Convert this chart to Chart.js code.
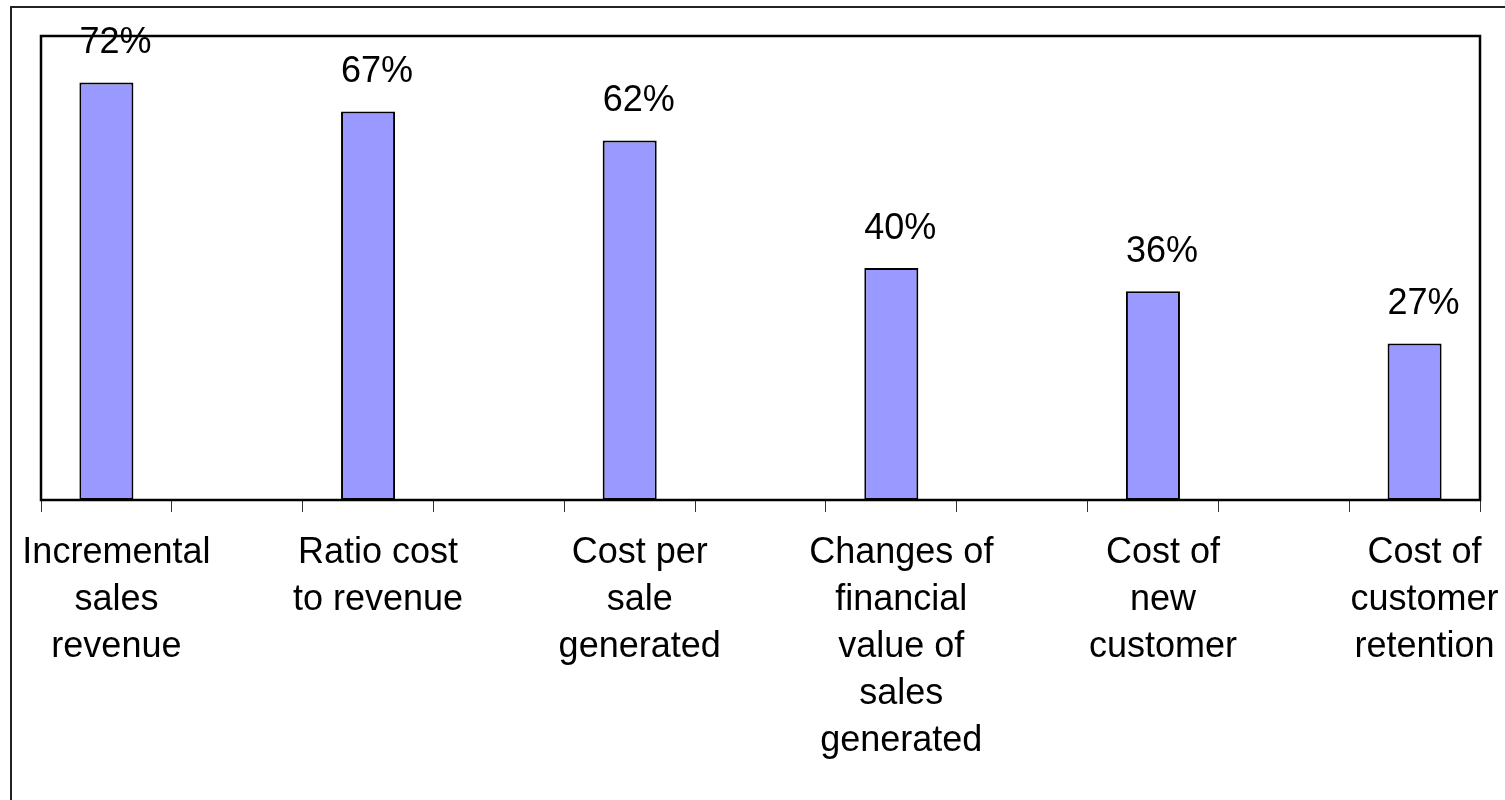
<!DOCTYPE html>
<html>
<head>
<meta charset="utf-8">
<title>Metrics chart</title>
<script src="https://cdn.jsdelivr.net/npm/chart.js@4/dist/chart.umd.min.js"></script>
<style>
  html, body { margin: 0; padding: 0; background: #fff; }
  #wrap { width: 1505px; height: 800px; position: relative; }
</style>
</head>
<body>
<div id="wrap"><canvas id="chart"></canvas></div>
<script>
"use strict";

// categories sit on every other slot, the slots between stay empty
const categories = [
  ['Incremental', 'sales', 'revenue'],
  '',
  ['Ratio cost', 'to revenue'],
  '',
  ['Cost per', 'sale', 'generated'],
  '',
  ['Changes of', 'financial', 'value of', 'sales', 'generated'],
  '',
  ['Cost of', 'new', 'customer'],
  '',
  ['Cost of', 'customer', 'retention'],
];
const shares = [72, null, 67, null, 62, null, 40, null, 36, null, 27];
const yMin = 0;
const yMax = 80;

const FONT = "'Liberation Sans', Arial, sans-serif";

const framePlugin = {
  id: 'frame',
  beforeDraw( chart ) {
    const ctx = chart.ctx;
    ctx.save();
    ctx.strokeStyle = '#222';
    ctx.lineWidth = 2;
    ctx.beginPath();
    ctx.moveTo( 11, 2000 );
    ctx.lineTo( 11, 7 );
    ctx.lineTo( 2000, 7 );
    ctx.stroke();
    ctx.restore();
  },
  afterDatasetsDraw( chart ) {
    const ctx = chart.ctx;
    const a = chart.chartArea;
    ctx.save();
    ctx.strokeStyle = '#000';
    ctx.lineWidth = 2.5;
    ctx.strokeRect( a.left, a.top, a.right - a.left, a.bottom - a.top );
    // value labels above the bars
    ctx.fillStyle = '#000';
    ctx.font = '36px ' + FONT;
    ctx.textAlign = 'center';
    ctx.textBaseline = 'alphabetic';
    const meta = chart.getDatasetMeta( 0 );
    meta.data.forEach( ( bar, i ) => {
      const v = shares[i];
      if ( v === null ) return;
      ctx.fillText( v + '%', bar.x + 9, bar.y - 29 );
    } );
    ctx.restore();
  },
};

new Chart( document.getElementById( 'chart' ), {
  type: 'bar',
  data: {
    labels: categories,
    datasets: [ {
      data: shares,
      backgroundColor: '#9999FF',
      borderColor: '#000',
      borderWidth: 2,
      borderSkipped: false,
      categoryPercentage: 1,
      barPercentage: 0.413,
    } ],
  },
  options: {
    responsive: true,
    maintainAspectRatio: false,
    animation: false,
    layout: {
      padding: { left: 41, right: 25, top: 36, bottom: 18 },
    },
    plugins: {
      legend: { display: false },
      tooltip: { enabled: false },
    },
    scales: {
      x: {
        offset: true,
        border: { display: false },
        grid: {
          offset: true,
          drawOnChartArea: false,
          drawTicks: true,
          tickLength: 12,
          color: '#333',
          lineWidth: 1,
        },
        ticks: {
          autoSkip: false,
          maxRotation: 0,
          minRotation: 0,
          padding: 18,
          labelOffset: 10,
          color: '#000',
          font: { family: FONT, size: 36, lineHeight: 1.3 },
        },
        // let the layout padding alone set the plot edges
        afterFit( scale ) {
          scale.paddingLeft = 0;
          scale.paddingRight = 0;
        },
      },
      y: {
        display: false,
        min: yMin,
        max: yMax,
      },
    },
  },
  plugins: [ framePlugin ],
} );
</script>
</body>
</html>
